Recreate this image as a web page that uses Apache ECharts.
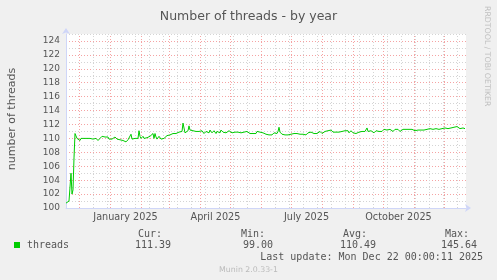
<!DOCTYPE html>
<html><head><meta charset="utf-8">
<script src="https://cdn.jsdelivr.net/npm/echarts@6/dist/echarts.min.js"></script>
<style>html,body{margin:0;padding:0;background:#f0f0f0}#c{width:497px;height:280px}</style>
</head><body><div id="c"></div>
<script>
const DAY = 86400000;
const startDate = Date.UTC(2024, 10, 18);
const rangeDays = 400;
// daily values (threads), one per day from startDate
const threads = [
100.7,100.7,100.8,101.0,101.2,105.0,102.0,102.6,107.2,110.7,
110.5,110.0,109.8,109.9,109.7,110.0,109.9,109.8,110.0,110.1,
110.2,110.0,109.9,109.8,110.0,110.0,109.8,109.9,110.1,109.9,
110.0,109.8,109.7,109.8,110.0,110.2,110.3,110.3,110.3,110.2,
110.3,110.3,110.2,109.9,109.8,110.0,109.9,110.1,110.0,110.2,
110.2,109.9,109.7,110.0,109.8,109.9,110.0,109.7,109.8,109.6,
109.5,109.7,109.8,109.9,109.8,110.6,109.9,110.0,110.1,110.0,
110.1,110.2,110.0,111.1,110.3,110.0,110.1,110.3,110.0,109.8,
110.0,110.1,110.3,110.2,110.3,110.4,110.2,110.7,110.0,110.7,
110.2,109.9,110.1,110.3,110.1,109.9,110.0,109.8,110.0,110.1,
110.2,110.4,110.6,110.4,110.5,110.6,110.5,110.7,110.6,110.7,
110.7,110.8,110.7,110.9,111.0,111.1,111.0,112.2,112.4,110.8,
110.9,111.0,111.1,111.8,111.2,111.1,111.0,111.1,111.0,110.9,
111.0,110.8,110.9,111.0,110.8,110.9,111.1,111.0,110.7,110.9,
111.0,111.1,110.9,110.8,111.2,111.0,110.8,110.9,111.1,111.0,
110.7,111.0,111.1,110.9,110.8,111.2,111.0,110.9,110.7,111.1,
110.8,110.9,111.0,111.1,110.9,111.0,110.8,110.9,111.0,110.9,
111.0,110.8,110.9,110.7,110.9,110.8,110.6,110.8,110.9,110.8,
110.7,111.0,111.1,110.9,110.7,110.8,110.9,110.7,110.6,110.8,
110.7,111.0,110.9,111.0,110.9,110.8,110.9,110.8,110.7,110.8,
110.6,110.7,110.6,110.5,110.7,110.6,110.5,110.6,110.8,110.7,
110.8,110.7,111.0,111.6,110.9,110.7,110.6,110.7,110.6,110.5,
110.7,110.6,110.5,110.6,110.7,110.6,110.5,110.6,110.7,110.5,
110.6,110.7,110.6,110.8,110.6,110.7,110.5,110.6,110.8,110.7,
110.5,110.7,110.8,110.6,110.7,110.9,111.0,110.8,110.7,110.9,
110.8,110.7,110.6,110.8,111.0,110.9,110.7,110.8,110.9,111.0,
110.9,111.0,111.1,110.9,111.0,111.2,111.1,110.9,111.0,110.8,
110.9,111.0,110.8,110.9,110.7,110.9,111.0,110.8,110.9,111.1,
111.0,110.9,111.1,110.8,110.9,111.1,111.0,110.8,110.9,111.0,
110.7,110.6,110.8,110.9,111.0,110.9,111.0,110.8,110.9,111.0,
111.1,111.5,111.0,110.9,111.0,111.1,110.9,111.0,110.8,111.0,
111.1,111.0,110.9,111.0,111.2,111.1,111.0,111.2,111.3,111.2,
111.1,111.2,111.0,111.1,111.3,111.2,111.1,111.0,111.2,111.3,
111.2,111.1,111.3,111.2,111.0,111.1,111.2,111.3,111.1,111.2,
111.3,111.1,111.2,111.3,111.2,111.1,111.3,111.2,111.3,111.1,
111.2,111.3,111.2,111.4,111.3,111.2,111.3,111.3,111.2,111.3,
111.4,111.3,111.2,111.3,111.4,111.3,111.4,111.3,111.4,111.5,
111.4,111.6,111.4,111.3,111.4,111.5,111.4,111.5,111.4,111.5,
111.4,111.5,111.4,111.5,111.6,111.5,111.4,111.5,111.6,111.7,
111.6,111.7,111.8,111.6,111.4,111.3,111.4,111.5,111.4,111.4
];
const monthStarts = ['2024-12-01','2025-01-01','2025-02-01','2025-03-01','2025-04-01','2025-05-01',
  '2025-06-01','2025-07-01','2025-08-01','2025-09-01','2025-10-01','2025-11-01','2025-12-01'];
const minorGridFirst = '2024-12-15';
const minorGridStepDays = 14;
const xLabelDates = ['2025-01-16T12:00:00Z','2025-04-16T12:00:00Z','2025-07-16T12:00:00Z','2025-10-16T12:00:00Z'];
const xLabelTexts = ['January 2025','April 2025','July 2025','October 2025'];
const yMin = 100, yMax = 125, yStep = 1, yLabelStep = 2;
const legendName = 'threads';
const statHeads = ['Cur:','Min:','Avg:','Max:'];
const statValues = ['111.39','99.00','110.49','145.64'];
const lastUpdate = 'Last update: Mon Dec 22 00:00:11 2025';

const endDate = startDate + rangeDays * DAY;
const seriesData = threads.map((v, i) => [startDate + i * DAY, v]);
const monthTs = monthStarts.map(s => Date.parse(s + 'T00:00:00Z'));
const minorTs = [];
for (let t = Date.parse(minorGridFirst + 'T00:00:00Z'); t < endDate; t += minorGridStepDays * DAY) minorTs.push(t);
const labelTs = xLabelDates.map(s => Date.parse(s));

const GREEN = '#00cc00';
const GRAYGRID = '#d4d4d4';
const REDGRID = '#f5a3a3';
const AXIS = '#CFD6F8';
const FONT = '#555555';
const SANS = 'DejaVu Sans';
const MONO = 'DejaVu Sans Mono';

const chart = echarts.init(document.getElementById('c'), null, {renderer: 'canvas'});
const statX = [[162,171],[265,273],[367,376],[469,477]];
const graphics = [
  {type:'text', x:12, y:119, rotation:Math.PI/2, style:{text:'number of threads', fill:FONT, font:'11px "DejaVu Sans"', textAlign:'center', textVerticalAlign:'middle'}},
  {type:'text', x:487, y:6, rotation:-Math.PI/2, style:{text:'RRDTOOL / TOBI OETIKER', fill:'#c0c0c0', font:'7.8px "DejaVu Sans"', textAlign:'left', textVerticalAlign:'middle'}},
  {type:'rect', shape:{x:14, y:242, width:6, height:6}, style:{fill:GREEN}},
  {type:'text', x:27, y:245.5, style:{text:legendName, fill:FONT, font:'10px "DejaVu Sans Mono"', textAlign:'left', textVerticalAlign:'middle'}},
  {type:'text', x:483, y:257.5, style:{text:lastUpdate, fill:FONT, font:'10px "DejaVu Sans Mono"', textAlign:'right', textVerticalAlign:'middle'}},
  {type:'text', x:248.5, y:269.5, style:{text:'Munin 2.0.33-1', fill:'#bbbbbb', font:'7.8px "DejaVu Sans"', textAlign:'center', textVerticalAlign:'middle'}}
];
statHeads.forEach((h, i) => {
  graphics.push({type:'text', x:statX[i][0], y:234, style:{text:h, fill:FONT, font:'10px "DejaVu Sans Mono"', textAlign:'right', textVerticalAlign:'middle'}});
  graphics.push({type:'text', x:statX[i][1], y:245.5, style:{text:statValues[i], fill:FONT, font:'10px "DejaVu Sans Mono"', textAlign:'right', textVerticalAlign:'middle'}});
});

chart.setOption({
  animation: false,
  backgroundColor: '#f0f0f0',
  title: {text:'Number of threads - by year', left:'center', top:5,
    textStyle:{fontFamily:SANS, fontSize:12.5, fontWeight:'normal', color:FONT}},
  grid: {left:66, right:31, top:34, bottom:72, show:true, backgroundColor:'#ffffff', borderWidth:0},
  xAxis: {
    type:'value', min:startDate, max:endDate,
    axisLine:{show:true, lineStyle:{color:AXIS, width:1}, symbol:['none','arrow'], symbolSize:[6,6], symbolOffset:[0,5]},
    axisTick:{show:false},
    splitLine:{show:false},
    axisLabel:{customValues:labelTs, color:FONT, fontFamily:SANS, fontSize:9.7, margin:4,
      formatter: v => { const i = labelTs.indexOf(v); return i >= 0 ? xLabelTexts[i] : ''; }}
  },
  yAxis: {
    type:'value', min:yMin, max:yMax, interval:yStep,
    axisLine:{show:true, lineStyle:{color:AXIS, width:1}, symbol:['none','arrow'], symbolSize:[6,6], symbolOffset:[0,6]},
    axisTick:{show:false},
    splitLine:{show:true, lineStyle:{color:[REDGRID, GRAYGRID], type:[1,2], width:1}},
    axisLabel:{color:FONT, fontFamily:SANS, fontSize:9, margin:6,
      formatter: v => ((v - yMin) % yLabelStep === 0 && v < yMax) ? String(v) : ''}
  },
  series: [
    {type:'line', data:[], silent:true, z:1,
      markLine:{silent:true, symbol:['none','none'], label:{show:false}, animation:false,
        lineStyle:{color:GRAYGRID, type:[1,2], width:1},
        data: minorTs.map(t => ({xAxis:t}))}},
    {type:'line', data:[], silent:true, z:2,
      markLine:{silent:true, symbol:['none','none'], label:{show:false}, animation:false,
        lineStyle:{color:REDGRID, type:[1,2], width:1},
        data: monthTs.map(t => ({xAxis:t}))}},
    {type:'line', name:legendName, data:seriesData, showSymbol:false, z:5,
      lineStyle:{color:GREEN, width:1}, itemStyle:{color:GREEN}}
  ],
  graphic: graphics
});
</script></body></html>
